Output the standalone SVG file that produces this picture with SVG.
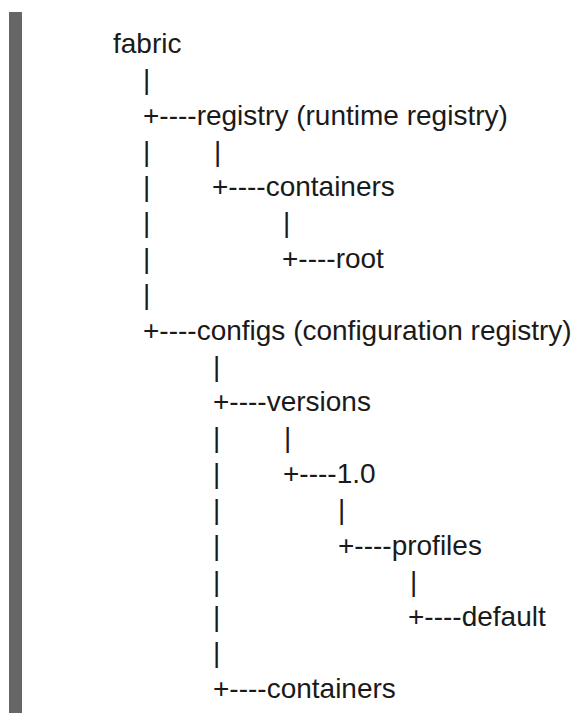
<svg xmlns="http://www.w3.org/2000/svg" width="574" height="713" viewBox="0 0 574 713">
<style>
text{font-family:"Liberation Sans",Arial,sans-serif;font-size:28px;fill:#1a1a1a;white-space:pre}
</style>
<rect width="574" height="713" fill="#ffffff"/>
<rect x="9" y="12" width="13" height="701" fill="#666666"/>
<g id="tree">
<g id="n-fabric"><text x="113" y="53">fabric</text></g>
<g id="connectors">
<text x="143" y="88.8">|</text>
<text x="143" y="160.5">|</text><text x="214" y="160.5">|</text>
<text x="143" y="196.3">|</text>
<text x="143" y="232.2">|</text><text x="283" y="232.2">|</text>
<text x="143" y="268">|</text>
<text x="143" y="303.8">|</text>
<text x="213" y="375.5">|</text>
<text x="213" y="447.3">|</text><text x="284" y="447.3">|</text>
<text x="213" y="483">|</text>
<text x="213" y="518.9">|</text><text x="338" y="518.9">|</text>
<text x="213" y="554.6">|</text>
<text x="213" y="590.5">|</text><text x="410" y="590.5">|</text>
<text x="213" y="626.4">|</text>
<text x="213" y="662.2">|</text>
</g>
<g id="n-registry"><text x="143" y="124.7">+----registry (runtime registry)</text></g>
<g id="n-containers1"><text x="212" y="196.3">+----containers</text></g>
<g id="n-root"><text x="282" y="268">+----root</text></g>
<g id="n-configs"><text x="143" y="339.7">+----configs (configuration registry)</text></g>
<g id="n-versions"><text x="213" y="411.3">+----versions</text></g>
<g id="n-1-0"><text x="283" y="483">+----1.0</text></g>
<g id="n-profiles"><text x="338" y="554.6">+----profiles</text></g>
<g id="n-default"><text x="408" y="626.4">+----default</text></g>
<g id="n-containers2"><text x="213" y="698">+----containers</text></g>
</g>
</svg>
